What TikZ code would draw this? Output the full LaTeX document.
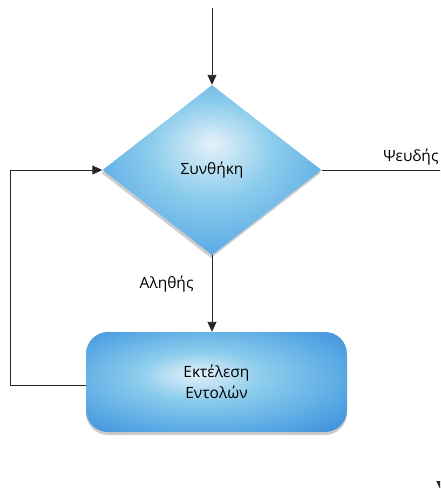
\documentclass[tikz,border=0pt]{standalone}
\usepackage{fontspec}
\setmainfont{Open Sans}
\usetikzlibrary{shapes.geometric,arrows.meta,shadows}
\definecolor{flowlight}{RGB}{230,241,250}
\definecolor{flowmid}{RGB}{140,205,236}
\definecolor{flowedge}{RGB}{85,165,228}
\definecolor{flowdark}{RGB}{55,130,210}
\pgfdeclareradialshading{flowglow}{\pgfpoint{0bp}{8bp}}{color(0bp)=(flowlight); color(14bp)=(flowmid); color(30bp)=(flowedge); color(50bp)=(flowdark)}
\pgfdeclareradialshading{boxglow}{\pgfpoint{-4bp}{4bp}}{color(0bp)=(flowlight); color(12bp)=(flowmid); color(28bp)=(flowedge); color(40bp)=(flowdark); color(50bp)=(flowdark!80!black)}
\begin{document}
\begin{tikzpicture}[x=1pt, y=-1pt, font=\fontsize{15.5}{21}\selectfont, line join=round, >={Triangle[length=10pt,width=9pt]},
	flowline/.style={line width=0.9pt, draw=black!85},
	decision/.style={diamond, aspect=1.29, minimum width=219pt, minimum height=170pt, inner sep=0pt,
		shading=flowglow, drop shadow={opacity=0.4, shadow xshift=-1pt, shadow yshift=-3pt}},
	process/.style={rectangle, rounded corners=22pt, minimum width=261pt, minimum height=100pt, align=center,
		shading=boxglow, drop shadow={opacity=0.4, shadow xshift=0pt, shadow yshift=-3pt}}]
	\useasboundingbox (0,0) rectangle (440,488);
	\clip (0,0) rectangle (440,488);
	\node[decision] (cond) at (212,170) {Συνθήκη};
	\node[process] (exec) at (216.5,382) {Εκτέλεση\\Εντολών};
	\coordinate (start) at (212,8);
	\coordinate (loopout) at (86,385);
	\coordinate (loopcorner) at (10,385);
	\coordinate (looptop) at (10,170);
	\coordinate (falsecorner) at (441,170);
	\coordinate (falseend) at (441,491);
	\draw[flowline,->] (start) -- (cond.north);
	\draw[flowline,->] (cond.south) -- (cond.south |- exec.north);
	\node[anchor=east] (truelabel) at (197,284) {Αληθής};
	\draw[flowline,->] (loopout) -- (loopcorner) -- (looptop) -- (cond.west);
	\draw[flowline,->] (cond.east) -- (falsecorner) -- (falseend);
	\node[anchor=east] (falselabel) at (442,157) {Ψευδής};
\end{tikzpicture}
\end{document}
